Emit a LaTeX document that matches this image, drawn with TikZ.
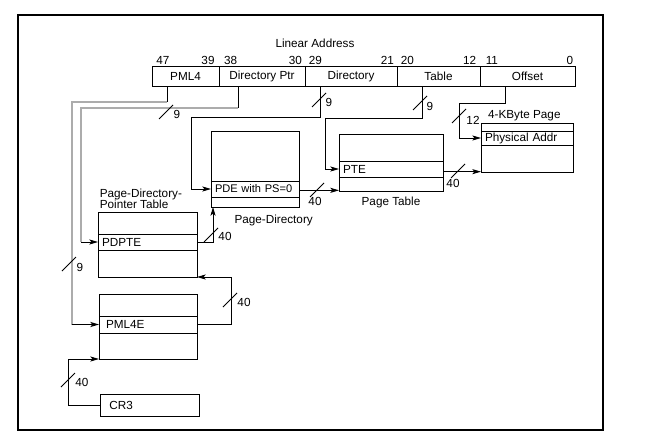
\documentclass[tikz,border=0pt]{standalone}
\usepackage{fontspec}
\setmainfont{Liberation Sans}
\usepackage{tikz}
\usetikzlibrary{positioning}
\usetikzlibrary{arrows.meta}

% bus width mark: name, centre, label position, label
\newcommand{\bus}[4]{%
  \draw[slash] #2 ++(-7,7) -- ++(14,-14);
  \node[buslabel] (#1) at #3 {#4};}

\begin{document}
\begin{tikzpicture}[x=0.75pt,y=-0.75pt,font=\fontsize{8.8}{10}\selectfont,
    line width=0.7pt,
    field/.style={draw,inner sep=0pt,outer sep=0pt,minimum height=15pt},
    bit/.style={inner sep=1pt},
    tab/.style={draw,inner sep=0pt,outer sep=0pt},
    entry/.style={draw,inner sep=0pt,inner xsep=3pt,outer sep=0pt,align=left},
    wire/.style={line width=0.7pt},
    greywire/.style={draw=gray!65,line width=1pt},
    arr/.style={-{Stealth[length=6.5pt,width=3.8pt,inset=1.5pt]}},
    slash/.style={line width=0.6pt},
    buslabel/.style={inner sep=0pt}]
   \useasboundingbox (0,0) rectangle (666,435);
   \draw[line width=0.8pt] (18,15) rectangle (603,430);

   % linear address
   \node (linaddr) at (315,43) {Linear Address};
   \node[field,minimum width=50.25pt] (pml4) at (185.5,76) {PML4};
   \node[field,minimum width=64.5pt,right=0pt of pml4] (dirptr) {Directory Ptr};
   \node[field,minimum width=69pt,right=0pt of dirptr] (dir) {Directory};
   \node[field,minimum width=62.25pt,right=0pt of dir] (table) {Table};
   \node[field,minimum width=71.25pt,right=0pt of table] (offset) {Offset};

   \node[bit,anchor=south west] (b47) at ([xshift=2pt]pml4.north west) {47};
   \node[bit,anchor=south east] (b39) at ([xshift=-2pt]pml4.north east) {39};
   \node[bit,anchor=south west] (b38) at ([xshift=2.5pt]dirptr.north west) {38};
   \node[bit,anchor=south east] (b30) at ([xshift=-1pt]dirptr.north east) {30};
   \node[bit,anchor=south west] (b29) at ([xshift=1.5pt]dir.north west) {29};
   \node[bit,anchor=south east] (b21) at ([xshift=-1pt]dir.north east) {21};
   \node[bit,anchor=south west] (b20) at ([xshift=1.5pt]table.north west) {20};
   \node[bit,anchor=south east] (b12) at ([xshift=-1.5pt]table.north east) {12};
   \node[bit,anchor=south west] (b11) at ([xshift=3pt]offset.north west) {11};
   \node[bit,anchor=south east] (b0) at ([xshift=0pt]offset.north east) {0};

   % tables
   \node[tab,minimum width=69pt,minimum height=36.75pt] (page) at (527,147.5) {};
   \node[entry,minimum height=10.5pt,text width=63pt] (phys) at (527,138) {Physical Addr};
   \node[anchor=south west,inner sep=1pt] (pagelbl) at ([xshift=4pt]page.north west) {4-KByte Page};

   \node[tab,minimum width=78pt,minimum height=42.75pt] (pt) at (391,162.5) {};
   \node[entry,minimum height=12pt,text width=72pt] (pte) at (391,169) {PTE};
   \node[below=1pt of pt] (ptlbl) {Page Table};

   \node[tab,minimum width=66pt,minimum height=57pt] (pd) at (255,169) {};
   \node[entry,minimum height=12pt,text width=62pt,inner xsep=2pt,
         font=\fontsize{8.3}{10}\selectfont] (pde) at (255,189) {\hspace{1pt}PDE with PS=0};
   \node[below=2pt of pd,xshift=14pt] (pdlbl) {Page-Directory};

   \node[tab,minimum width=74.25pt,minimum height=48.75pt] (pdpt) at (147.5,244.5) {};
   \node[entry,minimum height=12pt,text width=68.25pt] (pdpte) at (147.5,242) {PDPTE};
   \node[above=1pt of pdpt.north west,anchor=south west,align=left,inner sep=1pt,
         font=\fontsize{8.8}{8.8}\selectfont] (pdptlbl) {Page-Directory-\\Pointer Table};

   \node[tab,minimum width=73.5pt,minimum height=48.75pt] (pml4t) at (148,326.5) {};
   \node[entry,minimum height=12.75pt,text width=66pt,inner xsep=3.75pt] (pml4e) at (148,324.5) {\hspace{1.5pt}PML4E};

   \node[entry,minimum height=16.5pt,text width=60.25pt,inner xsep=7pt] (cr3) at (149.5,405) {CR3};

   % from the linear address
   \draw[wire] ([xshift=-13.9pt]pml4.south) -- ++(0,16) coordinate (p1);
   \draw[greywire] (p1) -- ++(-95,0) coordinate (p2) -- (p2 |- pml4e.west) coordinate (p3);
   \draw[arr] (p3) -- (pml4e.west);

   \draw[wire] ([xshift=-18pt]dirptr.south) -- ++(0,22) coordinate (d1);
   \draw[greywire] (d1) -- ++(-157,0) coordinate (d2) -- (d2 |- pdpte.west) coordinate (d3);
   \draw[arr] (d3) -- (pdpte.west);

   \draw[arr] ([xshift=-23.25pt]dir.south) |- ++(-129,31) |- (pde.west);
   \draw[arr] ([xshift=-12.4pt]table.south) |- ++(-97,32) |- (pte.west);
   \draw[arr] ([xshift=-16.9pt]offset.south) |- ++(-46,17) |- (phys.west);

   % table to table
   \draw[arr] (cr3.west) -- ++(-32,0) |- (pml4t.south west);
   \draw[arr] (pml4e.east) -- ++(34,0) |- (pdpt.south east);
   \draw[arr] (pdpte.east) -| ([xshift=1.5pt]pd.south west);
   \draw[arr] ([yshift=-1pt]pde.east) -- ([yshift=-1pt]pde.east -| pt.west);
   \draw[arr] ([yshift=-2pt]pte.east) -- ([yshift=-2pt]pte.east -| page.west);

   % bus widths
   \bus{w1}{(166,112)}{(177,114)}{9}
   \bus{w2}{(69,264)}{(80,267)}{9}
   \bus{w3}{(319,100)}{(329,102)}{9}
   \bus{w4}{(420,103)}{(430,106)}{9}
   \bus{w5}{(459,116)}{(473,120)}{12}
   \bus{w6}{(317,190)}{(315,201)}{40}
   \bus{w7}{(458,171)}{(453,183)}{40}
   \bus{w8}{(211,235)}{(225,236)}{40}
   \bus{w9}{(230,300)}{(244,302)}{40}
   \bus{w10}{(68,380)}{(82,382)}{40}
\end{tikzpicture}
\end{document}
